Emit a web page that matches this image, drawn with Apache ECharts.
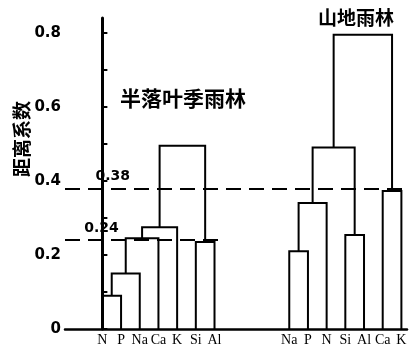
<!DOCTYPE html>
<html><head><meta charset="utf-8">
<script src="https://cdn.jsdelivr.net/npm/echarts@6/dist/echarts.min.js"></script>
<style>html,body{margin:0;padding:0;background:#fff}#c{width:411px;height:353px}</style>
</head><body><div id="c"></div>
<script>
const yTicks = [0, 0.1, 0.2, 0.3, 0.4, 0.5, 0.6, 0.7, 0.8];
const yLabels = [0, 0.2, 0.4, 0.6, 0.8];
const leftLeaves = ['N', 'P', 'Na', 'Ca', 'K', 'Si', 'Al'];
// [childA, childB, height]; leaves 0..6, new clusters numbered from 7
const leftMerges = [[0, 1, 0.09], [7, 2, 0.15], [8, 3, 0.245], [9, 4, 0.275], [5, 6, 0.235], [10, 11, 0.495]];
const rightLeaves = ['Na', 'P', 'N', 'Si', 'Al', 'Ca', 'K'];
const rightMerges = [[0, 1, 0.21], [7, 2, 0.34], [3, 4, 0.254], [8, 9, 0.49], [5, 6, 0.373], [10, 11, 0.795]];
const cutLevels = [0.38, 0.24];
const cutLabels = ['0.38', '0.24'];

const RIGHT_OFFSET = 10;
function dendro(leaves, merges, offset) {
  const nodes = leaves.map((l, i) => ({ x: offset + i, h: 0 }));
  const segs = [];
  merges.forEach(([a, b, h]) => {
    const A = nodes[a], B = nodes[b];
    segs.push({ coords: [[A.x, A.h], [A.x, h], [B.x, h], [B.x, B.h]] });
    nodes.push({ x: (A.x + B.x) / 2, h: h });
  });
  return segs;
}
const leafMap = {};
leftLeaves.forEach((l, i) => leafMap[i] = l);
rightLeaves.forEach((l, i) => leafMap[RIGHT_OFFSET + i] = l);
const leafPos = Object.keys(leafMap).map(Number);

const segs = dendro(leftLeaves, leftMerges, 0).concat(dendro(rightLeaves, rightMerges, RIGHT_OFFSET));
const cutEnds = [16.1, 6.6];
const cutLabelX = [0.55, -0.05];

const chart = echarts.init(document.getElementById('c'), null, { renderer: 'canvas' });
chart.setOption({
  backgroundColor: '#fff',
  animation: false,
  grid: { left: 65, right: 4, top: 18, bottom: 24 },
  xAxis: {
    type: 'value', min: -2, max: 16.3,
    splitLine: { show: false },
    axisLine: { show: true, onZero: false, lineStyle: { color: '#000', width: 2.5 } },
    axisTick: { show: false },
    axisLabel: {
      customValues: leafPos,
      formatter: v => leafMap[Math.round(v)] || '',
      color: '#000', fontFamily: 'Liberation Serif', fontSize: 14, margin: 4
    }
  },
  yAxis: {
    type: 'value', min: 0, max: 0.84,
    splitLine: { show: false },
    axisLine: { show: true, lineStyle: { color: '#000', width: 3 } },
    axisTick: { show: true, inside: true, length: 5, customValues: yTicks, lineStyle: { color: '#000', width: 2 } },
    axisLabel: {
      customValues: yLabels,
      formatter: v => v === 0 ? '0' : v.toFixed(1),
      color: '#000', fontFamily: 'DejaVu Sans', fontWeight: 'bold', fontSize: 15, margin: 4
    }
  },
  series: [
    {
      type: 'lines', coordinateSystem: 'cartesian2d', polyline: true, silent: true,
      lineStyle: { color: '#000', width: 2, opacity: 1 },
      data: segs
    },
    {
      type: 'lines', coordinateSystem: 'cartesian2d', silent: true,
      lineStyle: { color: '#000', width: 2, type: [15, 8], opacity: 1 },
      data: cutLevels.map((c, i) => ({ coords: [[-2, c], [cutEnds[i], c]] }))
    },
    {
      type: 'scatter', symbolSize: 1, silent: true, z: 5,
      itemStyle: { opacity: 0 },
      data: cutLevels.map((c, i) => [cutLabelX[i], c, cutLabels[i]]),
      label: {
        show: true, position: 'top', distance: 4, opacity: 1,
        formatter: p => p.data[2],
        color: '#000', fontFamily: 'DejaVu Sans', fontWeight: 'bold', fontSize: 14
      }
    }
  ],
  graphic: [
    { type: 'text', left: 120, top: 88, style: { text: '半落叶季雨林', fill: '#000', font: 'bold 21px "Noto Sans CJK SC"' } },
    { type: 'text', left: 318, top: 8, style: { text: '山地雨林', fill: '#000', font: 'bold 19px "Noto Sans CJK SC"' } },
    { type: 'text', x: 22, y: 139, rotation: Math.PI / 2, style: { text: '距离系数', fill: '#000', font: 'bold 19px "Noto Sans CJK SC"', align: 'center', verticalAlign: 'middle' } }
  ]
});
</script></body></html>
